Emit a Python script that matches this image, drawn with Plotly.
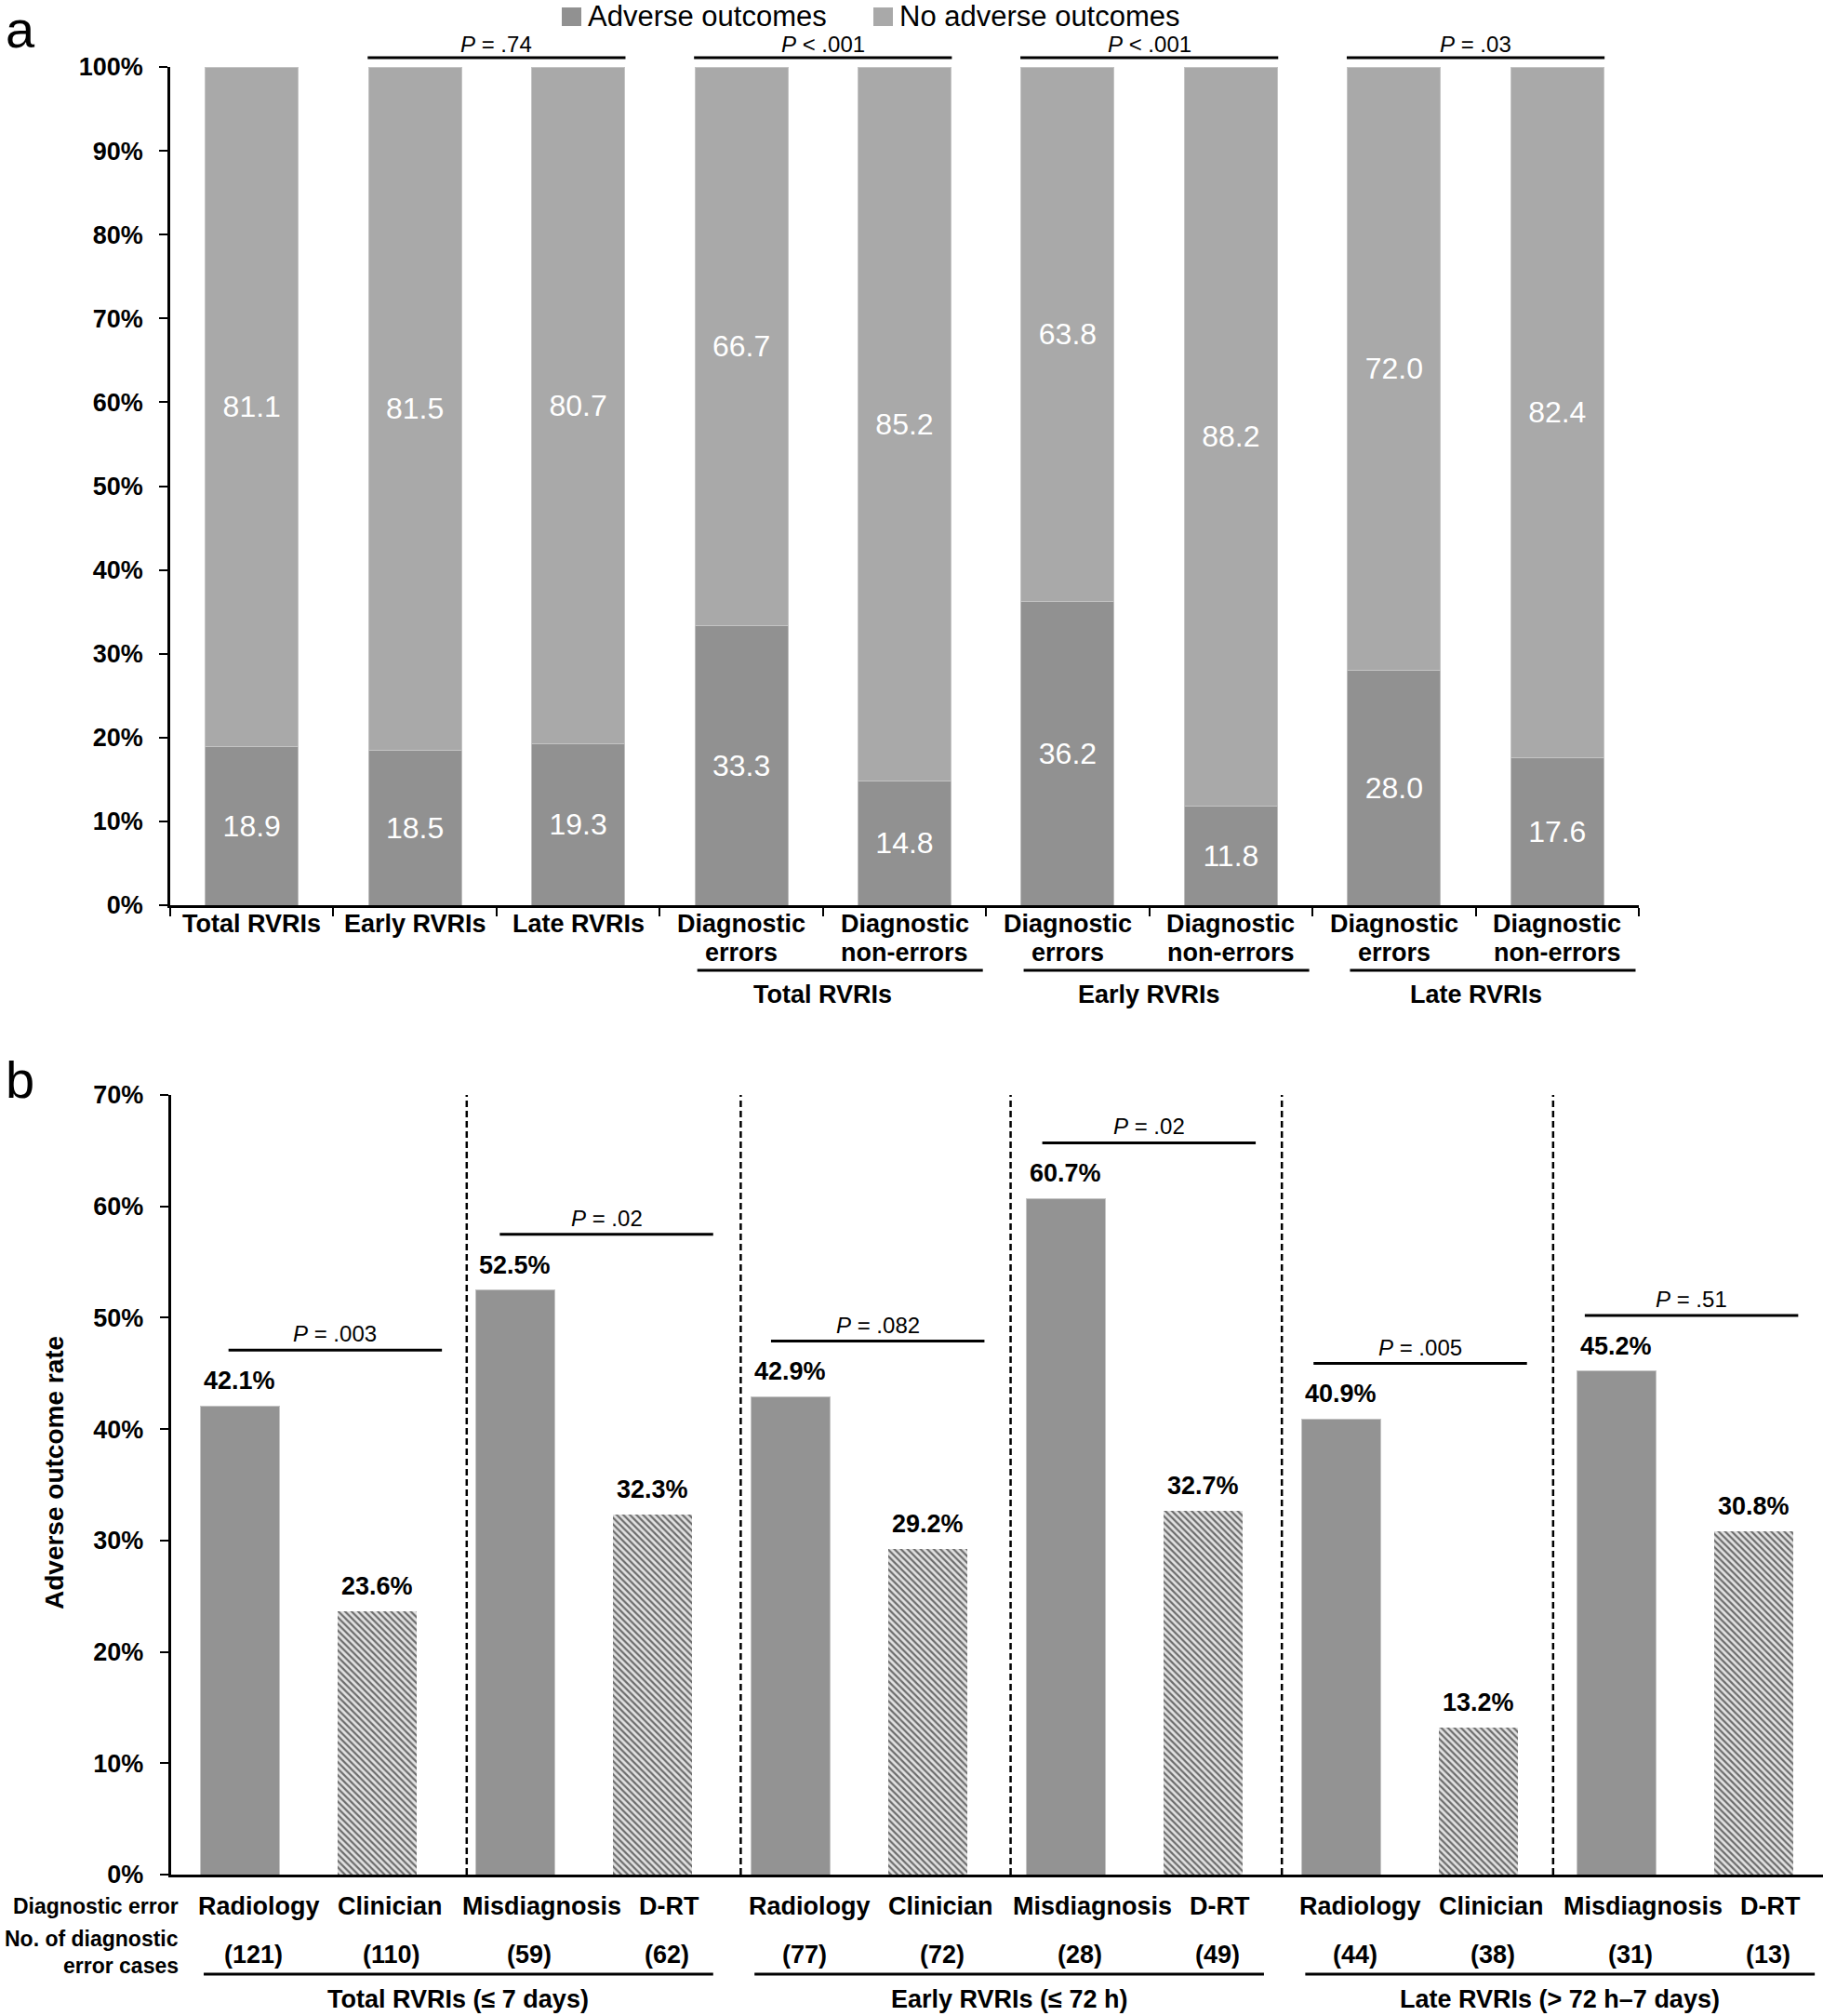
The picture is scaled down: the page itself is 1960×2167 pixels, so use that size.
import plotly.graph_objects as go

W, H = 1960, 2167
FONT = "Liberation Sans, Arial, sans-serif"

# ---------------- Panel a data ----------------
a_label_line1 = ["Total RVRIs", "Early RVRIs", "Late RVRIs", "Diagnostic", "Diagnostic",
                 "Diagnostic", "Diagnostic", "Diagnostic", "Diagnostic"]
a_label_line2 = ["", "", "", "errors", "non-errors", "errors", "non-errors", "errors", "non-errors"]
a_adverse = [18.9, 18.5, 19.3, 33.3, 14.8, 36.2, 11.8, 28.0, 17.6]
a_no_adverse = [81.1, 81.5, 80.7, 66.7, 85.2, 63.8, 88.2, 72.0, 82.4]
a_group_names = ["Total RVRIs", "Early RVRIs", "Late RVRIs"]
a_group_members = [(3, 4), (5, 6), (7, 8)]
a_p_pairs = [(1, 2), (3, 4), (5, 6), (7, 8)]
a_p_texts = ["<i>P</i> = .74", "<i>P</i> &lt; .001", "<i>P</i> &lt; .001", "<i>P</i> = .03"]
a_yticks = [0, 10, 20, 30, 40, 50, 60, 70, 80, 90, 100]
a_series_names = ["Adverse outcomes", "No adverse outcomes"]

# ---------------- Panel b data ----------------
b_error_types = ["Radiology", "Clinician", "Misdiagnosis", "D-RT",
                 "Radiology", "Clinician", "Misdiagnosis", "D-RT",
                 "Radiology", "Clinician", "Misdiagnosis", "D-RT"]
b_rates = [42.1, 23.6, 52.5, 32.3, 42.9, 29.2, 60.7, 32.7, 40.9, 13.2, 45.2, 30.8]
b_counts = [121, 110, 59, 62, 77, 72, 28, 49, 44, 38, 31, 13]
b_group_names = ["Total RVRIs (\u2264 7 days)", "Early RVRIs (\u2264 72 h)", "Late RVRIs (> 72 h\u20137 days)"]
b_p_texts = ["<i>P</i> = .003", "<i>P</i> = .02", "<i>P</i> = .082",
             "<i>P</i> = .02", "<i>P</i> = .005", "<i>P</i> = .51"]
b_separators = [1.65, 3.64, 5.60, 7.57, 9.54]
b_yticks = [0, 10, 20, 30, 40, 50, 60, 70]

C_ADV = "#919191"
C_NO = "#a9a9a9"
C_SOLID = "#939393"

# horizontal nudges (px) of the table labels under panel b, per error type
LABEL_SHIFT = {"Radiology": 21, "Clinician": 14, "Misdiagnosis": 29, "D-RT": 18}


def xp(p):
    return p / W


def yp(p):
    return 1 - p / H


fig = go.Figure()

a_x = list(range(len(a_adverse)))
fig.add_trace(go.Bar(
    x=a_x, y=a_adverse, name=a_series_names[0], width=0.57,
    marker=dict(color=C_ADV, line=dict(color="#bdbdbd", width=1)),
    text=[f"{v:.1f}" for v in a_adverse], textposition="inside", insidetextanchor="middle",
    textfont=dict(color="white", size=32, family=FONT), constraintext="none",
    xaxis="x", yaxis="y", showlegend=False, hoverinfo="skip"))
fig.add_trace(go.Bar(
    x=a_x, y=a_no_adverse, name=a_series_names[1], width=0.57,
    marker=dict(color=C_NO, line=dict(color="#c4c4c4", width=1)),
    text=[f"{v:.1f}" for v in a_no_adverse], textposition="inside", insidetextanchor="middle",
    textfont=dict(color="white", size=32, family=FONT), constraintext="none",
    xaxis="x", yaxis="y", showlegend=False, hoverinfo="skip"))

b_x = list(range(len(b_rates)))
fig.add_trace(go.Bar(
    x=b_x[0::2], y=b_rates[0::2], width=0.574,
    marker=dict(color=C_SOLID, line=dict(color="#c4c4c4", width=1)),
    xaxis="x2", yaxis="y2", showlegend=False, hoverinfo="skip"))
fig.add_trace(go.Bar(
    x=b_x[1::2], y=b_rates[1::2], width=0.574,
    marker=dict(color="#d8d8d8", line=dict(color="#e0e0e0", width=0),
                pattern=dict(shape="\\", fgcolor="#6c6c6c", bgcolor="#e2e2e2", size=5, solidity=0.45)),
    xaxis="x2", yaxis="y2", showlegend=False, hoverinfo="skip"))

ann = []
shapes = []
bold = dict(family=FONT, size=27, color="black", weight="bold")
reg = dict(family=FONT, size=24, color="black")

# Panel letters
ann.append(dict(text="a", x=xp(4), y=1.0, xref="paper", yref="paper", xanchor="left",
                yanchor="top", yshift=2, showarrow=False,
                font=dict(family=FONT, size=56, color="black")))
ann.append(dict(text="b", x=xp(4), y=yp(1160), xref="paper", yref="paper", xanchor="left",
                yanchor="middle", showarrow=False, font=dict(family=FONT, size=56, color="black")))

# Legend (manual)
leg_x = [604, 939]
for name, col, lx in zip(a_series_names, [C_ADV, C_NO], leg_x):
    shapes.append(dict(type="rect", xref="paper", yref="paper", x0=xp(lx), x1=xp(lx + 21),
                       y0=yp(28), y1=yp(8), fillcolor=col, line=dict(width=0)))
    ann.append(dict(text=name, x=xp(lx + 26), y=yp(17), xref="paper", yref="paper",
                    xanchor="left", yanchor="middle", showarrow=False,
                    font=dict(family=FONT, size=31, color="black")))

# Panel a category labels
for i, (l1, l2) in enumerate(zip(a_label_line1, a_label_line2)):
    ann.append(dict(text=l1, x=i, y=yp(993), xref="x", yref="paper", yanchor="middle",
                    showarrow=False, font=bold))
    if l2:
        ann.append(dict(text=l2, x=i, y=yp(1024), xref="x", yref="paper", yanchor="middle",
                        showarrow=False, font=bold))

# Panel a group lines and labels
for name, (i, j) in zip(a_group_names, a_group_members):
    shapes.append(dict(type="line", xref="x", yref="paper", x0=i - 0.27, x1=j + 0.48,
                       y0=yp(1043), y1=yp(1043), line=dict(color="black", width=3)))
    ann.append(dict(text=name, x=(i + j) / 2, y=yp(1069), xref="x", yref="paper",
                    yanchor="middle", showarrow=False, font=bold))

# Panel a P-value brackets
for txt, (i, j) in zip(a_p_texts, a_p_pairs):
    shapes.append(dict(type="line", xref="x", yref="paper", x0=i - 0.29, x1=j + 0.29,
                       y0=yp(62), y1=yp(62), line=dict(color="black", width=3)))
    ann.append(dict(text=txt, x=(i + j) / 2, y=yp(47), xref="x", yref="paper",
                    yanchor="middle", showarrow=False, font=reg))

# Panel b value labels
for i, v in enumerate(b_rates):
    ann.append(dict(text=f"{v:.1f}%", x=i, y=v, xref="x2", yref="y2", yanchor="bottom",
                    yshift=10, showarrow=False, font=bold))

# Panel b P-value brackets (above the taller bar of each pair)
for k, txt in enumerate(b_p_texts):
    top = max(b_rates[2 * k], b_rates[2 * k + 1]) + 5.0
    x0 = 2 * k - 0.08 - 0.03 * k
    x1 = x0 + 1.55
    shapes.append(dict(type="line", xref="x2", yref="y2", x0=x0, x1=x1, y0=top, y1=top,
                       line=dict(color="black", width=3)))
    ann.append(dict(text=txt, x=(x0 + x1) / 2, y=top, xref="x2", yref="y2", yanchor="bottom",
                    yshift=2, showarrow=False, font=reg))

# Panel b separators
for s in b_separators:
    shapes.append(dict(type="line", xref="x2", yref="y2", x0=s, x1=s, y0=0, y1=70,
                       line=dict(color="black", width=2.5, dash="7px,4px")))

# Panel b bottom table
for i, (t, c) in enumerate(zip(b_error_types, b_counts)):
    ann.append(dict(text=t, x=i, xshift=LABEL_SHIFT[t], y=yp(2049), xref="x2", yref="paper",
                    yanchor="middle", showarrow=False, font=bold))
    ann.append(dict(text=f"({c})", x=i, xshift=15, y=yp(2101), xref="x2", yref="paper",
                    yanchor="middle", showarrow=False, font=bold))
for g, name in enumerate(b_group_names):
    x0 = 4 * g - 0.26
    x1 = 4 * g + 3.44
    shapes.append(dict(type="line", xref="x2", yref="paper", x0=x0, x1=x1,
                       y0=yp(2122), y1=yp(2122), line=dict(color="black", width=3)))
    ann.append(dict(text=name, x=(x0 + x1) / 2, y=yp(2149), xref="x2", yref="paper",
                    yanchor="middle", showarrow=False, font=bold))
for txt, py in [("Diagnostic error", 2049), ("No. of diagnostic", 2084), ("error cases", 2113)]:
    ann.append(dict(text=txt, x=xp(194), y=yp(py), xref="paper", yref="paper", xanchor="right",
                    yanchor="middle", showarrow=False,
                    font=dict(family=FONT, size=23, color="black", weight="bold")))

# Panel b y title
ann.append(dict(text="Adverse outcome rate", x=xp(58), y=yp(1583), xref="paper", yref="paper",
                textangle=-90, xanchor="center", yanchor="middle", showarrow=False,
                font=dict(family=FONT, size=28, color="black", weight="bold")))

axis_common = dict(showgrid=False, zeroline=False, linecolor="black", showline=True,
                   automargin=False)

fig.update_layout(
    template="none",
    width=W, height=H, margin=dict(l=0, r=0, t=0, b=0, autoexpand=False),
    paper_bgcolor="white", plot_bgcolor="white", barmode="stack",
    font=dict(family=FONT, color="black"),
    xaxis=dict(domain=[xp(183), xp(1762)], range=[-0.5, 8.5], anchor="y",
               tickvals=[i - 0.5 for i in range(len(a_adverse) + 1)], showticklabels=False,
               ticks="outside", ticklen=9, tickwidth=2, tickcolor="black", linewidth=2.5,
               **axis_common),
    yaxis=dict(domain=[yp(973), yp(72)], range=[0, 100], anchor="x",
               tickvals=a_yticks, ticktext=[f"{v}%" for v in a_yticks],
               ticks="outside", ticklen=9, tickwidth=2, tickcolor="black", linewidth=2.5,
               tickfont=dict(family=FONT, size=27, color="black", weight="bold"),
               ticklabelstandoff=12, **axis_common),
    xaxis2=dict(domain=[xp(183.5), 1.0], range=[-0.5, 11.5], anchor="y2",
                showticklabels=False, ticks="", linewidth=3, **axis_common),
    yaxis2=dict(domain=[yp(2015), yp(1177)], range=[0, 70], anchor="x2",
                tickvals=b_yticks, ticktext=[f"{v}%" for v in b_yticks],
                ticks="outside", ticklen=9, tickwidth=2, tickcolor="black", linewidth=2.5,
                tickfont=dict(family=FONT, size=27, color="black", weight="bold"),
                ticklabelstandoff=12, **axis_common),
    annotations=ann, shapes=shapes, showlegend=False,
)

fig.write_html("out.html", config={"displayModeBar": False},
               post_script="document.body.style.margin='0px';document.body.style.overflow='hidden';")
